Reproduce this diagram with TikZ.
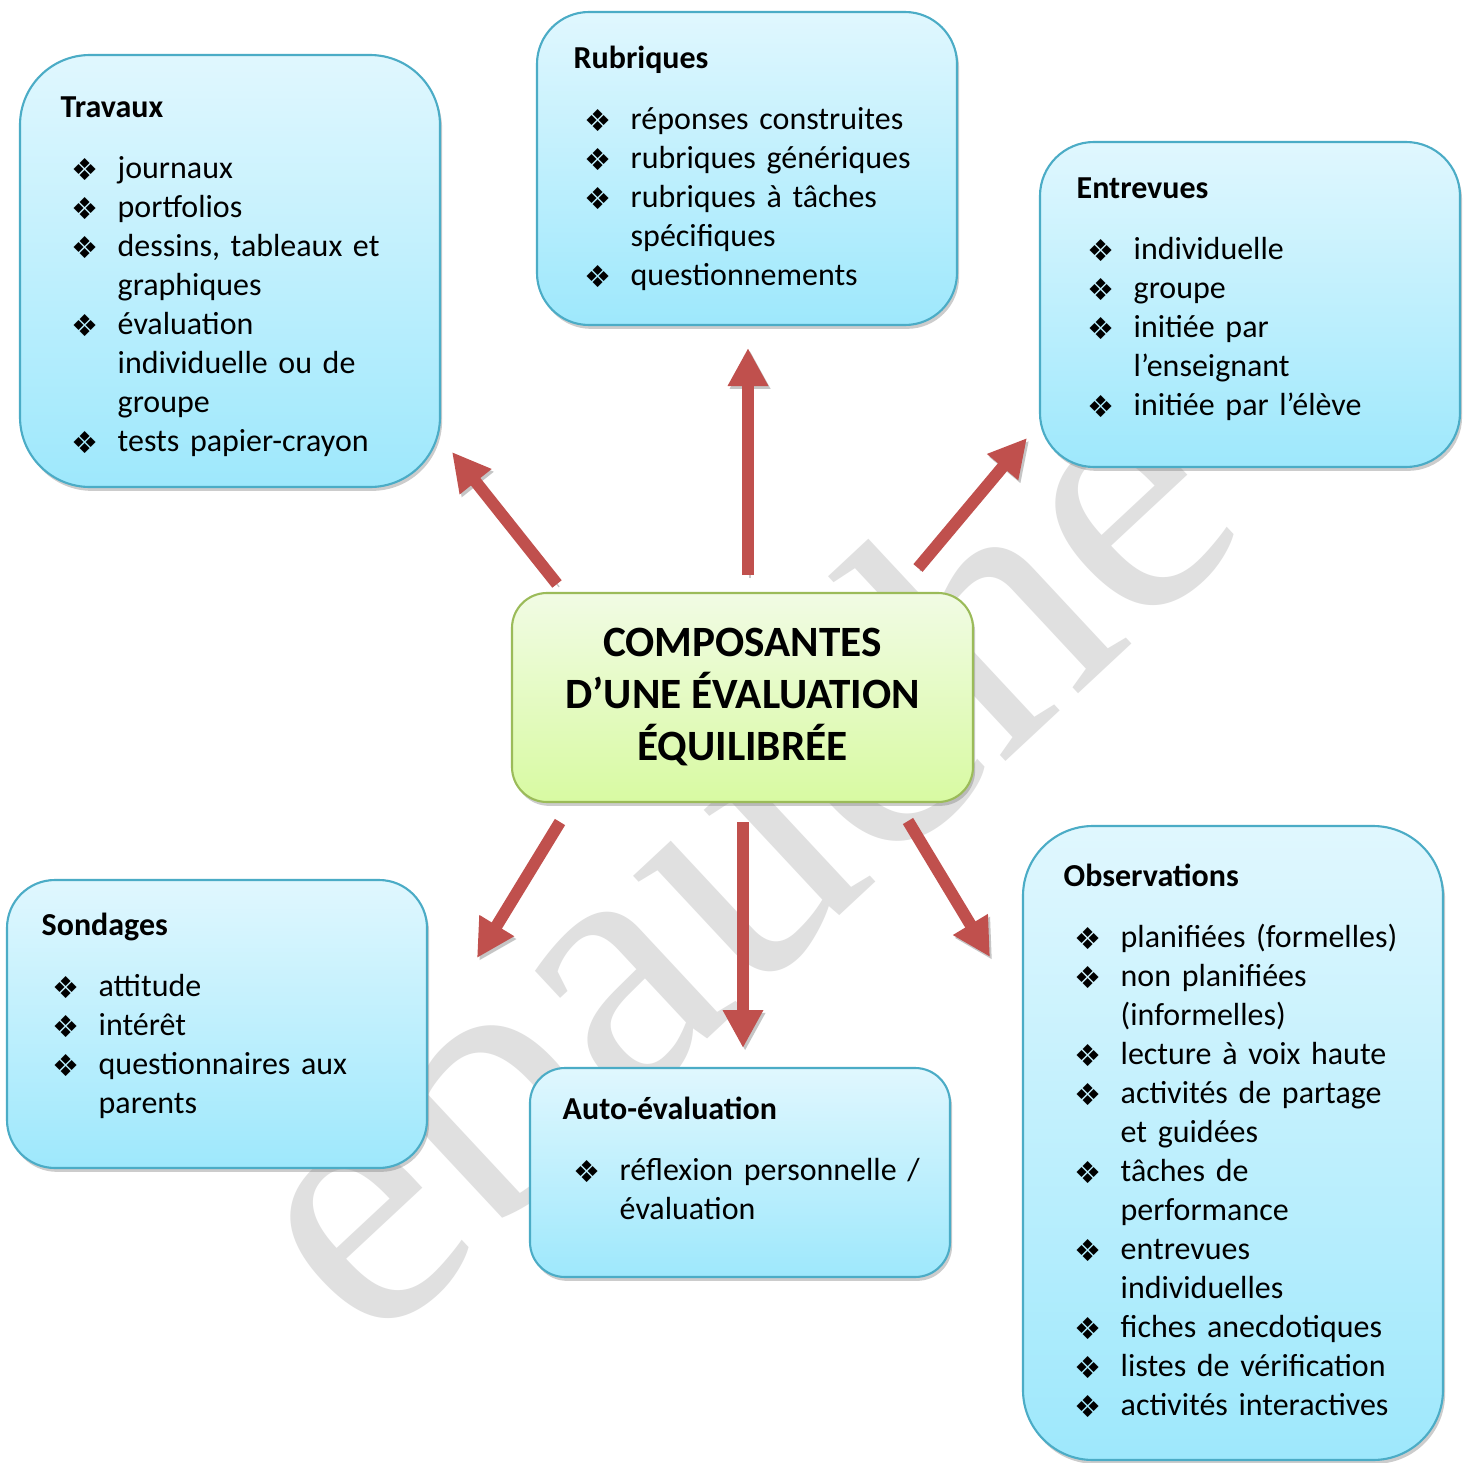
\documentclass[tikz,border=0pt]{standalone}
\usepackage{fontspec}
\setmainfont{Carlito}
\newfontfamily\bulletfont{DejaVu Sans}
\newfontfamily\markfont{Liberation Serif}
\usepackage{tikz}
\usetikzlibrary{arrows.meta, positioning, shadows, calc}
\definecolor{boxtop}{RGB}{224,247,254}
\definecolor{boxbottom}{RGB}{158,232,252}
\definecolor{boxline}{RGB}{75,172,198}
\definecolor{ctrtop}{RGB}{241,251,228}
\definecolor{ctrbottom}{RGB}{216,250,162}
\definecolor{ctrline}{RGB}{155,187,89}
\definecolor{arrowred}{RGB}{192,80,77}
\definecolor{markgray}{RGB}{224,224,224}
\newcommand{\bul}{\raisebox{-0.4pt}{\bulletfont\fontsize{8.6pt}{9pt}\selectfont ❖}}
\newcommand{\ttl}[1]{\rule{0pt}{0.25cm}\textbf{#1}\par\vspace{0.22cm}}
\newcommand{\itm}{\par\hangindent=0.57cm\hangafter=1\noindent\makebox[0.57cm][l]{\hspace{0.11cm}\bul}\ignorespaces}
\tikzset{
  basebox/.style={rectangle,inner sep=0pt,outer sep=0pt,line width=0.6pt,anchor=north west,
    drop shadow={shadow xshift=0.6pt,shadow yshift=-1.1pt,opacity=0.4}},
  topicbox/.style={basebox,draw=boxline,top color=boxtop,bottom color=boxbottom,minimum width=4.2cm},
  centerbox/.style={basebox,draw=ctrline,top color=ctrtop,bottom color=ctrbottom,rounded corners=0.35cm,
    align=center,font=\fontsize{12.3pt}{14.8pt}\selectfont\bfseries},
  listtext/.style={anchor=north west,inner sep=0pt,text width=4cm,font=\fontsize{9.1pt}{11.1pt}\selectfont},
  blockarr/.style={line width=0.12cm,draw=arrowred,-{Triangle[length=0.38cm,width=0.38cm]},
    preaction={draw=black!45,opacity=0.5,transform canvas={shift={(0.6pt,-0.8pt)}}}},
  watermark/.style={anchor=base,rotate=43,text=markgray,font=\markfont\fontsize{105pt}{105pt}\selectfont}
}
\begin{document}
\begin{tikzpicture}
  \useasboundingbox (0,0) rectangle (14.68,-14.63);
  \fill[white] (0,0) rectangle (14.68,-14.63);
  % filigrane
  \node[watermark] (mark) at (8.13,-9.41) {ébauche};

  % boites
  \node[topicbox,rounded corners=0.7cm,minimum height=4.32cm] (trav) at (0.20,-0.55) {};
  \node[topicbox,rounded corners=0.52cm,minimum height=3.13cm] (rub) at (5.37,-0.12) {};
  \node[topicbox,rounded corners=0.54cm,minimum height=3.25cm] (entr) at (10.40,-1.42) {};
  \node[topicbox,rounded corners=0.48cm,minimum height=2.88cm] (sond) at (0.07,-8.80) {};
  \node[topicbox,rounded corners=0.35cm,minimum height=2.09cm] (auto) at (5.30,-10.68) {};
  \node[topicbox,rounded corners=0.7cm,minimum height=6.34cm] (obs) at (10.23,-8.26) {};
  \node[centerbox,minimum width=4.61cm,minimum height=2.09cm] (ctr) at (5.12,-5.93)
    {COMPOSANTES\\D’UNE ÉVALUATION\\ÉQUILIBRÉE};

  % textes
  \node[listtext] (travtxt) at ([shift={(0.40,-0.37)}]trav.north west) {\ttl{Travaux}
    \itm journaux
    \itm portfolios
    \itm dessins, tableaux et\newline graphiques
    \itm évaluation\newline individuelle ou de\newline groupe
    \itm tests papier-crayon\par};
  \node[listtext] (rubtxt) at ([shift={(0.36,-0.31)}]rub.north west) {\ttl{Rubriques}
    \itm réponses construites
    \itm rubriques génériques
    \itm rubriques à tâches\newline spécifiques
    \itm questionnements\par};
  \node[listtext] (entrtxt) at ([shift={(0.36,-0.31)}]entr.north west) {\ttl{Entrevues}
    \itm individuelle
    \itm groupe
    \itm initiée par\newline l’enseignant
    \itm initiée par l’élève\par};
  \node[listtext] (sondtxt) at ([shift={(0.34,-0.30)}]sond.north west) {\ttl{Sondages}
    \itm attitude
    \itm intérêt
    \itm questionnaires aux\newline parents\par};
  \node[listtext] (autotxt) at ([shift={(0.32,-0.26)}]auto.north west) {\ttl{Auto-évaluation}
    \itm réflexion personnelle /\newline évaluation\par};
  \node[listtext] (obstxt) at ([shift={(0.40,-0.35)}]obs.north west) {\ttl{Observations}
    \itm planifiées (formelles)
    \itm non planifiées\newline (informelles)
    \itm lecture à voix haute
    \itm activités de partage\newline et guidées
    \itm tâches de\newline performance
    \itm entrevues\newline individuelles
    \itm fiches anecdotiques
    \itm listes de vérification
    \itm activités interactives\par};

  % fleches
  \coordinate (tailTrav) at (5.57,-5.84);  \coordinate (tipTrav) at (4.52,-4.52);
  \coordinate (tailRub)  at (7.48,-5.75);  \coordinate (tipRub)  at (7.48,-3.48);
  \coordinate (tailEntr) at (9.18,-5.68);  \coordinate (tipEntr) at (10.27,-4.38);
  \coordinate (tailSond) at (5.60,-8.22);  \coordinate (tipSond) at (4.77,-9.58);
  \coordinate (tailAuto) at (7.43,-8.22);  \coordinate (tipAuto) at (7.43,-10.48);
  \coordinate (tailObs)  at (9.08,-8.21);  \coordinate (tipObs)  at (9.90,-9.57);
  \foreach \a in {Trav,Rub,Entr,Sond,Auto,Obs}
    \draw[blockarr] (tail\a) -- (tip\a);
\end{tikzpicture}
\end{document}
